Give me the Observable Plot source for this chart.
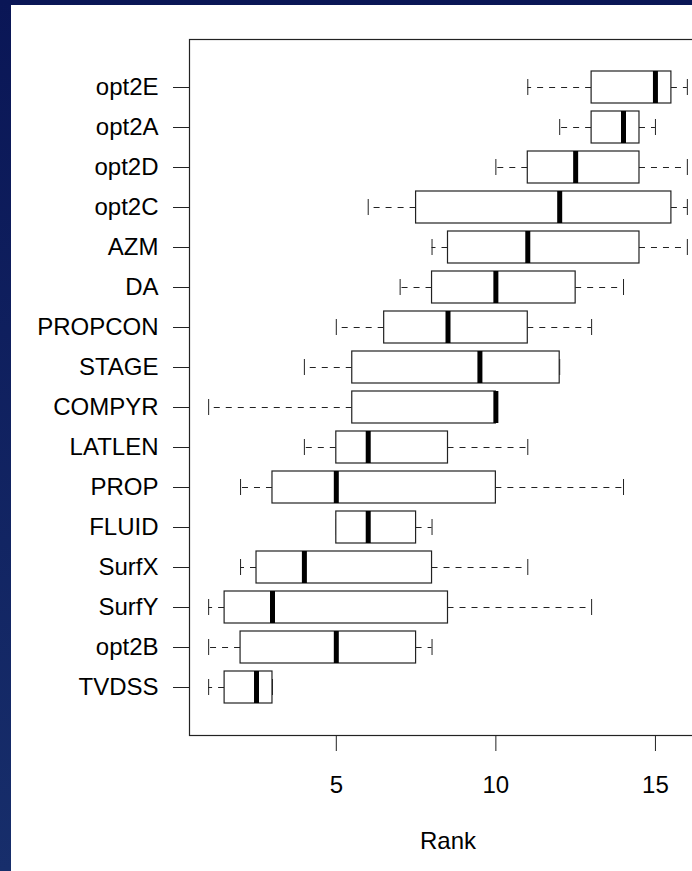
<!DOCTYPE html>
<html>
<head>
<meta charset="utf-8">
<script src="https://cdn.jsdelivr.net/npm/d3@7"></script>
<script src="https://cdn.jsdelivr.net/npm/@observablehq/plot@0.6"></script>
<style>
  html, body {
    margin: 0; padding: 0; width: 692px; height: 871px; overflow: hidden;
    background: linear-gradient(#0a1656, #172e6b);
  }
  #panel {
    position: absolute; left: 11px; top: 5px; width: 681px; height: 866px;
    background: #ffffff; overflow: hidden;
  }
  #panel svg { max-width: none !important; width: 700px !important; height: 866px !important; }
</style>
</head>
<body>
<div id="panel"></div>
<script>
// Variables, listed top to bottom as drawn
const factors = ["opt2E", "opt2A", "opt2D", "opt2C", "AZM", "DA", "PROPCON", "STAGE",
                 "COMPYR", "LATLEN", "PROP", "FLUID", "SurfX", "SurfY", "opt2B", "TVDSS"];
// Five-number summaries of each variable's rank
const mins    = [11, 12, 10, 6,    8,   7,    5,   4,   1,   4,   2,  5,   2,   1,   1,   1];
const q1s     = [13, 13, 11, 7.5,  8.5, 8,    6.5, 5.5, 5.5, 5,   3,  5,   2.5, 1.5, 2,   1.5];
const medians = [15, 14, 12.5, 12, 11,  10,   8.5, 9.5, 10,  6,   5,  6,   4,   3,   5,   2.5];
const q3s     = [15.5, 14.5, 14.5, 15.5, 14.5, 12.5, 11, 12, 10, 8.5, 10, 7.5, 8, 8.5, 7.5, 3];
const maxs    = [16, 15, 16, 16,   16,  14,   13,  12,  10,  11,  14, 8,   11,  13,  8,   3];
const rankTicks = [5, 10, 15];

const rows = factors.map((name, i) => ({
  name, min: mins[i], q1: q1s[i], median: medians[i], q3: q3s[i], max: maxs[i]
}));

const ink = "#222";
const capInset = 8;
const fs = 24;

const chart = Plot.plot({
  width: 700,
  height: 866,
  marginLeft: 178,
  marginRight: 5,
  marginTop: 34,
  marginBottom: 136,
  style: {
    fontFamily: "'Liberation Sans', Arial, sans-serif",
    fontSize: fs + "px",
    color: "#000",
    background: "transparent",
    overflow: "visible"
  },
  x: {domain: [0.4, 16.6]},
  y: {type: "band", domain: factors, paddingInner: 0.2, paddingOuter: 0.74},
  marks: [
    Plot.frame({stroke: ink, strokeWidth: 1.2}),
    Plot.axisY({tickSize: 16, tickPadding: 15, label: null, stroke: ink, fontSize: fs}),
    Plot.axisX({ticks: rankTicks, tickSize: 16, tickPadding: 24, label: null, stroke: ink, fontSize: fs}),
    // dashed whiskers from the box edges out to the extremes
    Plot.ruleY(rows, {y: "name", x1: "q1", x2: "min", stroke: ink, strokeDasharray: "6,6"}),
    Plot.ruleY(rows, {y: "name", x1: "q3", x2: "max", stroke: ink, strokeDasharray: "6,6"}),
    // whisker staples
    Plot.tickX(rows, {x: "min", y: "name", stroke: ink, insetTop: capInset, insetBottom: capInset}),
    Plot.tickX(rows, {x: "max", y: "name", stroke: ink, insetTop: capInset, insetBottom: capInset}),
    // interquartile boxes
    Plot.barX(rows, {x1: "q1", x2: "q3", y: "name", fill: "white", stroke: ink, strokeWidth: 1.2}),
    // medians
    Plot.tickX(rows, {x: "median", y: "name", stroke: "#000", strokeWidth: 5}),
    Plot.text(["Rank"], {frameAnchor: "bottom", dy: 113, fontSize: fs, fill: "#000"})
  ]
});

document.getElementById("panel").appendChild(chart);
</script>
</body>
</html>
